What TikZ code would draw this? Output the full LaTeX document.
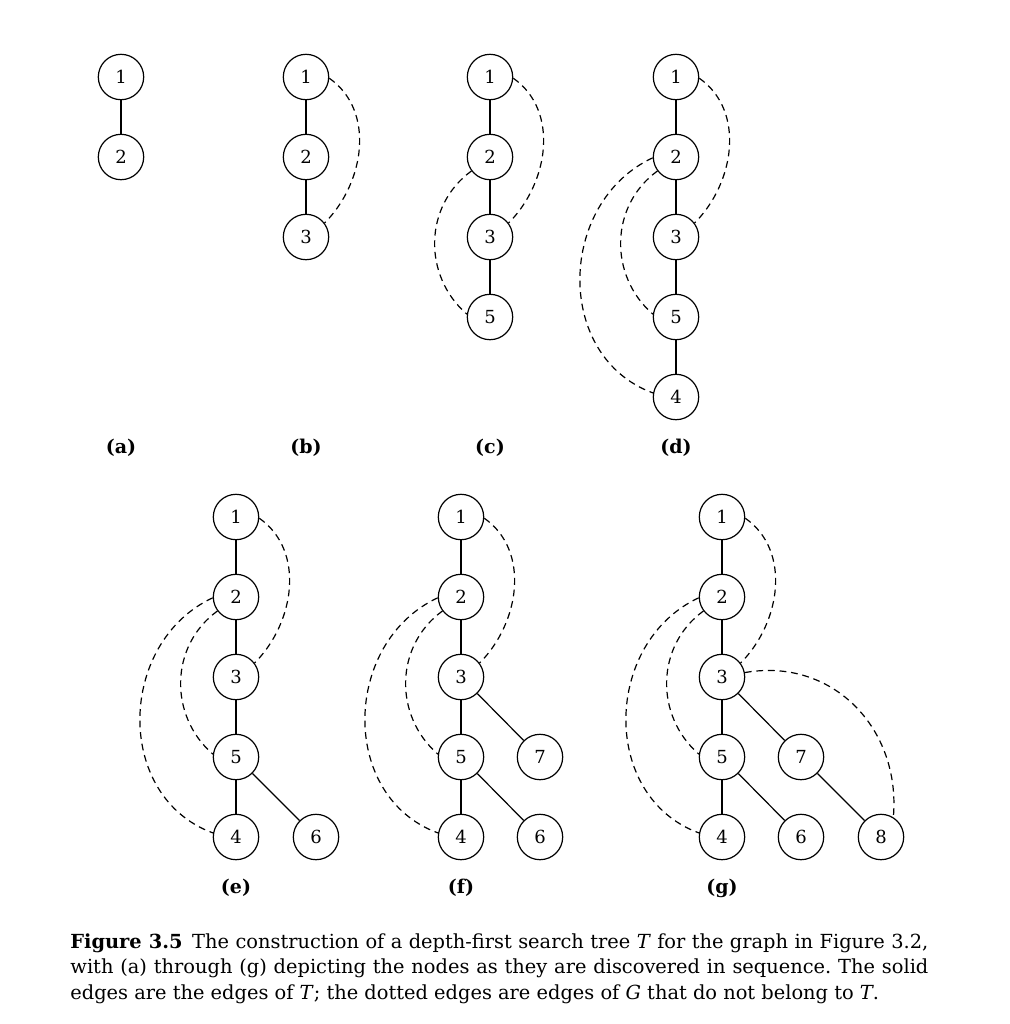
\documentclass[tikz,border=0pt]{standalone}
\usepackage{fontspec}
\setmainfont{DejaVu Serif}
\frenchspacing
\begin{document}
\begin{tikzpicture}[x=0.5pt,y=-0.5pt,
   vtx/.style={circle,draw,line width=0.6pt,minimum size=22.7pt,inner sep=0pt,
     font=\fontsize{9}{10}\selectfont},
   tree/.style={line width=0.6pt},
   back/.style={line width=0.6pt,dash pattern=on 3.4pt off 2.4pt},
   panel/.style={font=\fontsize{9.5}{11}\selectfont\bfseries},
   caption/.style={anchor=base west,text width=429pt,align=justify,inner sep=0pt,
     font=\fontsize{9.7}{12.75}\selectfont}]
   \useasboundingbox (0,0) rectangle (1009,1024);
  % (a)
   \node[vtx] (a1) at (121,77) {1};
   \node[vtx] (a2) at (121,157) {2};
   \draw[tree] (a1) -- (a2);
   \node[panel] (la) at (121,448) {(a)};
  % (b)
   \node[vtx] (b1) at (306,77) {1};
   \node[vtx] (b2) at (306,157) {2};
   \node[vtx] (b3) at (306,237) {3};
   \draw[tree] (b1) -- (b2) -- (b3);
   \draw[back] (b1.-3) to[out=-35,in=45] (b3.37);
   \node[panel] (lb) at (306,448) {(b)};
  % (c)
   \node[vtx] (c1) at (490,77) {1};
   \node[vtx] (c2) at (490,157) {2};
   \node[vtx] (c3) at (490,237) {3};
   \node[vtx] (c5) at (490,317) {5};
   \draw[tree] (c1) -- (c2) -- (c3) -- (c5);
   \draw[back] (c1.-3) to[out=-35,in=45] (c3.37);
   \draw[back] (c2.217) to[out=-144,in=139,looseness=1.05] (c5.173);
   \node[panel] (lc) at (490,448) {(c)};
  % (d)
   \node[vtx] (d1) at (676,77) {1};
   \node[vtx] (d2) at (676,157) {2};
   \node[vtx] (d3) at (676,237) {3};
   \node[vtx] (d5) at (676,317) {5};
   \node[vtx] (d4) at (676,397) {4};
   \draw[tree] (d1) -- (d2) -- (d3) -- (d5) -- (d4);
   \draw[back] (d1.-3) to[out=-35,in=45] (d3.37);
   \draw[back] (d2.217) to[out=-144,in=139,looseness=1.05] (d5.173);
   \draw[back] (d2.182) to[out=205,in=160,looseness=1.15] (d4.170);
   \node[panel] (ld) at (676,448) {(d)};
  %
  % (e)
   \node[vtx] (e1) at (236,517) {1};
   \node[vtx] (e2) at (236,597) {2};
   \node[vtx] (e3) at (236,677) {3};
   \node[vtx] (e5) at (236,757) {5};
   \node[vtx] (e4) at (236,837) {4};
   \node[vtx] (e6) at (316,837) {6};
   \draw[tree] (e1) -- (e2) -- (e3) -- (e5) -- (e4);
   \draw[tree] (e5) -- (e6);
   \draw[back] (e1.-3) to[out=-35,in=45] (e3.37);
   \draw[back] (e2.217) to[out=-144,in=139,looseness=1.05] (e5.173);
   \draw[back] (e2.182) to[out=205,in=160,looseness=1.15] (e4.170);
   \node[panel] (le) at (236,888) {(e)};
  % (f)
   \node[vtx] (f1) at (461,517) {1};
   \node[vtx] (f2) at (461,597) {2};
   \node[vtx] (f3) at (461,677) {3};
   \node[vtx] (f5) at (461,757) {5};
   \node[vtx] (f4) at (461,837) {4};
   \node[vtx] (f7) at (540,757) {7};
   \node[vtx] (f6) at (540,837) {6};
   \draw[tree] (f1) -- (f2) -- (f3) -- (f5) -- (f4);
   \draw[tree] (f5) -- (f6);
   \draw[tree] (f3) -- (f7);
   \draw[back] (f1.-3) to[out=-35,in=45] (f3.37);
   \draw[back] (f2.217) to[out=-144,in=139,looseness=1.05] (f5.173);
   \draw[back] (f2.182) to[out=205,in=160,looseness=1.15] (f4.170);
   \node[panel] (lf) at (461,888) {(f)};
  % (g)
   \node[vtx] (g1) at (722,517) {1};
   \node[vtx] (g2) at (722,597) {2};
   \node[vtx] (g3) at (722,677) {3};
   \node[vtx] (g5) at (722,757) {5};
   \node[vtx] (g4) at (722,837) {4};
   \node[vtx] (g7) at (801,757) {7};
   \node[vtx] (g6) at (801,837) {6};
   \node[vtx] (g8) at (881,837) {8};
   \draw[tree] (g1) -- (g2) -- (g3) -- (g5) -- (g4);
   \draw[tree] (g5) -- (g6);
   \draw[tree] (g3) -- (g7) -- (g8);
   \draw[back] (g1.-3) to[out=-35,in=45] (g3.37);
   \draw[back] (g2.217) to[out=-144,in=139,looseness=1.05] (g5.173);
   \draw[back] (g2.182) to[out=205,in=160,looseness=1.15] (g4.170);
   \draw[back] (g3.11) to[out=10,in=85,looseness=1.1] (g8.58);
   \node[panel] (lg) at (722,888) {(g)};
  %
   \node[caption] (cap) at (70,948) {\textbf{Figure 3.5}\enspace The construction of a
     depth-first search tree \textit{T} for the graph in Figure 3.2,\linebreak with (a)
     through (g) depicting the nodes as they are discovered in sequence. The
     solid\linebreak edges are the edges of \textit{T}; the dotted edges are edges of
     \textit{G} that do not belong to \textit{T}.};
   \end{tikzpicture}
\end{document}
